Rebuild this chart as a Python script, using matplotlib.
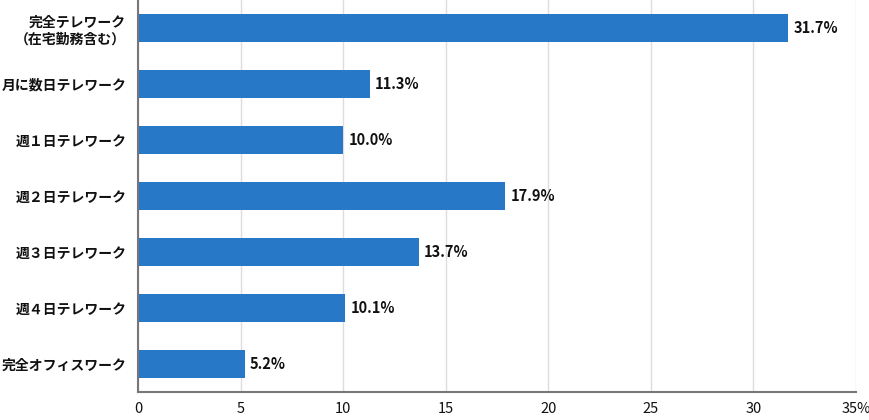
import matplotlib
matplotlib.use("Agg")
import matplotlib.pyplot as plt

plt.rcParams['font.family'] = ['Noto Sans CJK JP', 'DejaVu Sans']

categories = ["完全テレワーク\n（在宅勤務含む）", "月に数日テレワーク", "週１日テレワーク",
              "週２日テレワーク", "週３日テレワーク", "週４日テレワーク", "完全オフィスワーク"]
values = [31.7, 11.3, 10.0, 17.9, 13.7, 10.1, 5.2]
xticks = [0, 5, 10, 15, 20, 25, 30, 35]
xticklabels = ["0", "5", "10", "15", "20", "25", "30", "35%"]

fig = plt.figure(figsize=(8.7, 4.2), dpi=100)
ax = fig.add_axes([138/870, 28/420, (856-138)/870, 392/420])

ypos = list(range(len(categories)))
ax.barh(ypos, values, height=0.5, color='#2878C8', zorder=3)
for y, v in zip(ypos, values):
    ax.text(v + 0.25, y, f"{v:.1f}%", va='center', ha='left', fontsize=10.5,
            fontweight='bold', color='#111111')

ax.set_ylim(6.5, -0.5)
ax.set_xlim(0, 35)
ax.set_yticks(ypos)
ax.set_yticklabels(categories, fontsize=10, fontweight='bold', color='#111111',
                   linespacing=1.25, multialignment='right')
ax.set_xticks(xticks)
ax.set_xticklabels(xticklabels, fontsize=10.5, color='#111111')
ax.tick_params(axis='both', length=0)
ax.tick_params(axis='y', pad=8.5)
ax.tick_params(axis='x', pad=7)
ax.grid(axis='x', color='#dddddd', linewidth=1, zorder=0)
for s in ['top', 'right']:
    ax.spines[s].set_visible(False)
for s in ['left', 'bottom']:
    ax.spines[s].set_color('#777777')
    ax.spines[s].set_linewidth(1.5)
    ax.spines[s].set_zorder(4)

fig.savefig("out.png", dpi=100)
